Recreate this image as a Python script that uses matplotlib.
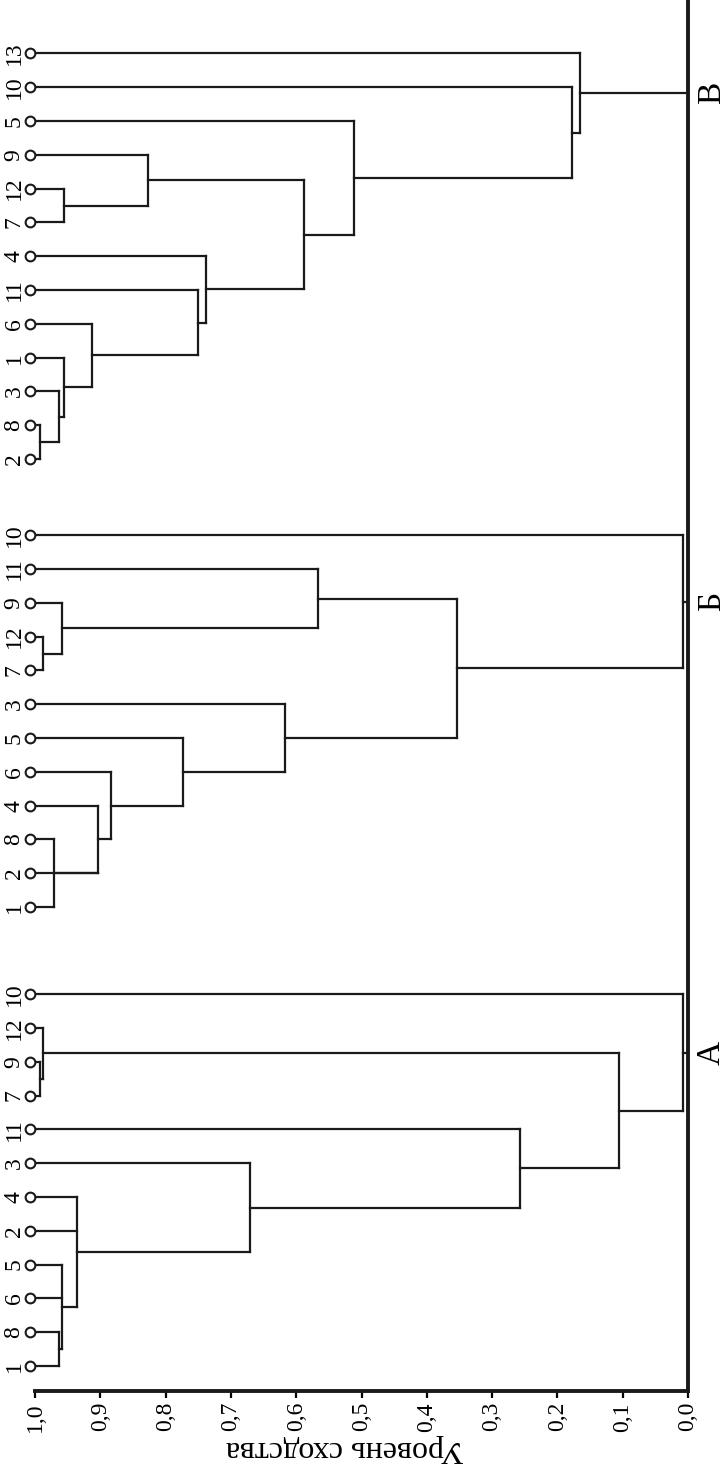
import matplotlib
matplotlib.use('Agg')
import matplotlib.pyplot as plt

plt.rcParams['font.family'] = ['Liberation Serif', 'DejaVu Serif']

# three dendrograms: leaves (bottom to top) and scipy-like links (a, b, similarity)
group_names = ['А', 'Б', 'В']

leaves_a = ['1', '8', '6', '5', '2', '4', '3', '11', '7', '9', '12', '10']
links_a = [(0, 1, 0.963), (12, 2, 0.958), (13, 3, 0.958), (14, 4, 0.935),
           (15, 5, 0.935), (16, 6, 0.671), (17, 7, 0.257), (8, 9, 0.993),
           (19, 10, 0.987), (18, 20, 0.105), (21, 11, 0.008)]

leaves_b = ['1', '2', '8', '4', '6', '5', '3', '7', '12', '9', '11', '10']
links_b = [(0, 2, 0.971), (12, 1, 0.903), (13, 3, 0.903), (14, 4, 0.884),
           (15, 5, 0.774), (16, 6, 0.617), (7, 8, 0.987), (18, 9, 0.958),
           (19, 10, 0.566), (17, 20, 0.353), (21, 11, 0.008)]

leaves_c = ['2', '8', '3', '1', '6', '11', '4', '7', '12', '9', '5', '10', '13']
links_c = [(0, 1, 0.993), (13, 2, 0.963), (14, 3, 0.955), (15, 4, 0.913),
           (16, 5, 0.750), (17, 6, 0.738), (7, 8, 0.956), (19, 9, 0.827),
           (18, 20, 0.588), (21, 10, 0.511), (22, 11, 0.178), (23, 12, 0.166)]

ticks = [i / 10 for i in range(11)]
tick_labels = ['%.1f' % t for t in ticks]
tick_labels = [t.replace('.', ',') for t in tick_labels]

# layout (pixel rows of the lowest leaf of each group)
bottom_rows = [1366, 907, 459]
step = 33.8
lw = 1.6
ink = '#1a1a1a'

fig = plt.figure(figsize=(7.27, 14.69), dpi=100)
ax = fig.add_axes([35 / 727, (1469 - 1391) / 1469, 653 / 727, 1391 / 1469])
ax.set_xlim(1.0, 0.0)
ax.set_ylim(1391, 0)


def draw_tree(leaves, links, y0):
    n = len(leaves)
    ys = [y0 - k * step for k in range(n)]
    nodes = {}
    for k in range(n):
        nodes[k] = None
    for j, (a, b, h) in enumerate(links):
        nodes[n + j] = (a, b, h)

    def children(i, h):
        # merges at the same level are drawn as one bracket
        a, b, _ = nodes[i]
        out = []
        for c in (a, b):
            if nodes[c] is not None and abs(nodes[c][2] - h) < 1e-9:
                out += children(c, h)
            else:
                out.append(c)
        return out

    def draw(i):
        if nodes[i] is None:
            return ys[i], 1.0
        h = nodes[i][2]
        pts = [draw(c) for c in children(i, h)]
        for y, hc in pts:
            ax.plot([hc, h], [y, y], color=ink, lw=lw, solid_capstyle='projecting')
        lo = min(p[0] for p in pts)
        hi = max(p[0] for p in pts)
        ax.plot([h, h], [lo, hi], color=ink, lw=lw, solid_capstyle='projecting')
        return (lo + hi) / 2, h

    root = n + len(links) - 1
    y_root, h_root = draw(root)
    ax.plot([h_root, 0], [y_root, y_root], color=ink, lw=lw)

    ax.plot([1.007] * n, ys, 'o', ms=7, mfc='white', mec=ink, mew=1.5,
            clip_on=False, zorder=3)
    for y, name in zip(ys, leaves):
        ax.text(1.032, y, name, rotation=90, ha='center', va='center',
                fontsize=17, clip_on=False)
    return y_root


for name, leaves, links, y0 in zip(group_names, [leaves_a, leaves_b, leaves_c],
                                   [links_a, links_b, links_c], bottom_rows):
    yr = draw_tree(leaves, links, y0)
    ax.text(-0.036, yr, name, rotation=90, ha='center', va='center',
            fontsize=24, clip_on=False)

for side in ['left', 'top']:
    ax.spines[side].set_visible(False)
for side in ['bottom', 'right']:
    ax.spines[side].set_linewidth(2.8)
    ax.spines[side].set_color(ink)
ax.set_yticks([])
ax.set_xticks(ticks)
ax.set_xticklabels(tick_labels, rotation=90, fontsize=17)
ax.tick_params(axis='x', direction='out', length=5, width=1.6, pad=3)
ax.set_xlabel('Уровень сходства', rotation=180, fontsize=23)
ax.xaxis.set_label_coords(0.475, -0.031)

fig.savefig('out.png', dpi=100)
